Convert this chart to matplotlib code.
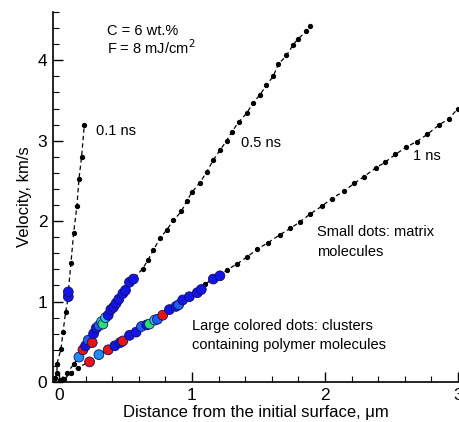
import matplotlib
matplotlib.use("Agg")
import matplotlib.pyplot as plt
import numpy as np

plt.rcParams['font.family'] = ['Liberation Sans', 'DejaVu Sans']

# ---- data ----
# small dots (matrix molecules)
x01 = [-0.03, -0.015, -0.015, 0.015, 0.03, 0.05, 0.09, 0.11, 0.135, 0.15, 0.17, 0.19]
y01 = [0.05, 0.11, 0.23, 0.41, 0.62, 0.87, 1.48, 1.85, 2.19, 2.52, 2.80, 3.19]

x05 = [0.01, 0.06, 0.11, 0.63, 0.67, 0.71, 0.76, 0.81, 0.86, 0.92, 0.96, 1.00, 1.06,
       1.11, 1.16, 1.21, 1.26, 1.30, 1.35, 1.41, 1.46, 1.51, 1.56, 1.61, 1.65, 1.71,
       1.76, 1.80, 1.86, 1.89]
y05 = [0.03, 0.11, 0.22, 1.41, 1.52, 1.64, 1.79, 1.89, 2.01, 2.12, 2.25, 2.36, 2.48,
       2.61, 2.76, 2.88, 3.00, 3.11, 3.23, 3.34, 3.47, 3.57, 3.69, 3.80, 3.95, 4.06,
       4.19, 4.27, 4.36, 4.43]

x1 = [0.04, 0.09, 0.14, 1.10, 1.26, 1.34, 1.41, 1.49, 1.57, 1.66, 1.74, 1.81, 1.89,
      1.98, 2.05, 2.14, 2.22, 2.29, 2.38, 2.45, 2.53, 2.61, 2.69, 2.77, 2.86, 2.93, 3.00]
y1 = [0.04, 0.11, 0.18, 1.22, 1.39, 1.47, 1.55, 1.65, 1.73, 1.83, 1.91, 1.99, 2.09,
      2.19, 2.28, 2.37, 2.47, 2.55, 2.66, 2.73, 2.83, 2.92, 2.99, 3.08, 3.20, 3.27, 3.40]

# large colored dots (clusters containing polymer molecules)
bx01 = [0.07, 0.07]
by01 = [1.06, 1.12]
bc01 = ['b', 'b']

bx05 = [0.15, 0.18, 0.20, 0.22, 0.25, 0.26, 0.28, 0.30, 0.32, 0.33, 0.35, 0.37,
        0.39, 0.41, 0.43, 0.45, 0.48, 0.50, 0.53, 0.56]
by05 = [0.31, 0.40, 0.45, 0.52, 0.49, 0.60, 0.67, 0.70, 0.75, 0.72, 0.80, 0.83,
        0.90, 0.93, 0.98, 1.03, 1.10, 1.14, 1.24, 1.28]
bc05 = ['l', 'r', 'b', 'm', 'r', 'b', 'b', 'm', 'c', 'g', 'c', 'b',
        'b', 'b', 'b', 'b', 'b', 'b', 'b', 'b']

bx1 = [0.23, 0.30, 0.37, 0.42, 0.46, 0.48, 0.53, 0.58, 0.62, 0.66, 0.68, 0.72,
       0.74, 0.78, 0.83, 0.88, 0.90, 0.93, 0.98, 1.04, 1.07, 1.16, 1.21]
by1 = [0.25, 0.34, 0.40, 0.45, 0.49, 0.51, 0.58, 0.62, 0.69, 0.71, 0.72, 0.77,
       0.78, 0.83, 0.90, 0.94, 0.96, 1.02, 1.06, 1.11, 1.15, 1.28, 1.32]
bc1 = ['r', 'l', 'r', 'b', 'b', 'r', 'b', 'b', 'm', 'b', 'g', 'c',
       'm', 'r', 'b', 'b', 'm', 'b', 'b', 'b', 'b', 'b', 'b']

palette = {'b': '#1414e6', 'm': '#1e5ef0', 'l': '#1e8cf0', 'c': '#28c8e8',
           'g': '#28e070', 'r': '#e81414'}

# ---- figure ----
W, H = 459, 422
fig = plt.figure(figsize=(W / 100, H / 100), dpi=100)
ax = fig.add_axes([53 / W, (H - 382) / H, (458 - 53) / W, (382 - 12) / H])

for xs, ys, bxs, bys in [(x01, y01, bx01, by01), (x05, y05, bx05, by05), (x1, y1, bx1, by1)]:
    allx = np.array(list(xs) + list(bxs))
    ally = np.array(list(ys) + list(bys))
    order = np.argsort(ally)
    ax.plot(allx[order], ally[order], color='black', lw=0.9,
            linestyle=(0, (3.5, 2.5)), zorder=2)
    ax.plot(xs, ys, 'o', color='black', ms=2.8, mec='black', zorder=3, clip_on=False)

for bxs, bys, bcs in [(bx01, by01, bc01), (bx05, by05, bc05), (bx1, by1, bc1)]:
    ax.scatter(bxs, bys, s=50, c=[palette[c] for c in bcs],
               edgecolors='#101060', linewidths=0.6, zorder=4)

ax.set_xlim(-0.045, 3.0)
ax.set_ylim(0, 4.6)
ax.set_xticks([0, 1, 2, 3])
ax.set_yticks([0, 1, 2, 3, 4])
ax.set_xticks(np.arange(0, 3.01, 0.2), minor=True)
ax.set_yticks(np.arange(0, 4.61, 0.2), minor=True)
ax.tick_params(which='major', direction='in', length=7, width=1, labelsize=12.5, pad=4)
ax.tick_params(which='minor', direction='in', length=4, width=0.8)
for s in ['top', 'right']:
    ax.spines[s].set_visible(False)
for s in ['left', 'bottom']:
    ax.spines[s].set_linewidth(1.2)

ax.set_xlabel('Distance from the initial surface, \u03bcm', fontsize=12, labelpad=2)
ax.set_ylabel('Velocity, km/s', fontsize=12, labelpad=4)

def px(xp, yp):
    return (xp / W, 1 - yp / H)

fs = 10.5
fig.text(*px(107, 31), 'C = 6 wt.%', fontsize=fs, va='center', ha='left')
fig.text(*px(107, 48), 'F = 8 mJ/cm$^2$', fontsize=fs, va='center', ha='left')
fig.text(*px(96, 131), '0.1 ns', fontsize=fs, va='center', ha='left')
fig.text(*px(241, 143), '0.5 ns', fontsize=fs, va='center', ha='left')
fig.text(*px(413, 156), '1 ns', fontsize=fs, va='center', ha='left')
fig.text(*px(317, 232), 'Small dots: matrix', fontsize=fs, va='center', ha='left')
fig.text(*px(317, 252), 'molecules', fontsize=fs, va='center', ha='left')
fig.text(*px(192, 326), 'Large colored dots: clusters', fontsize=fs, va='center', ha='left')
fig.text(*px(192, 345), 'containing polymer molecules', fontsize=fs, va='center', ha='left')

fig.savefig('out.png', dpi=100)
